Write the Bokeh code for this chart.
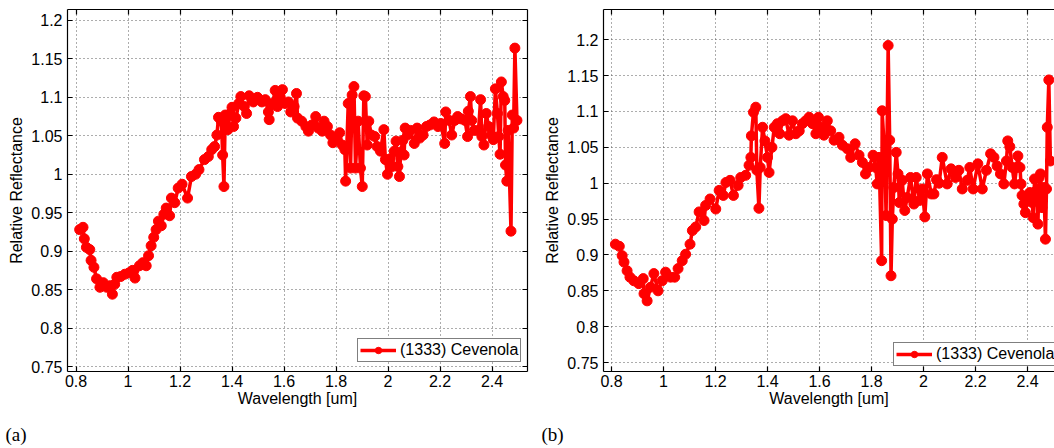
from bokeh.plotting import figure
from bokeh.layouts import row
from bokeh.models import FixedTicker, LinearAxis, Legend, LegendItem, Range1d, Title
from bokeh.embed import file_html
from bokeh.resources import INLINE

# ---------------- data ----------------
wl_a = [0.814, 0.827, 0.832, 0.840, 0.853, 0.858, 0.869, 0.879, 0.892, 0.905,
        0.918, 0.931, 0.940, 0.949, 0.957, 0.972, 0.988, 1.005, 1.018, 1.027,
        1.044, 1.057, 1.070, 1.079, 1.089, 1.099, 1.108, 1.117, 1.128, 1.138,
        1.147, 1.160, 1.167, 1.180, 1.193, 1.208, 1.229, 1.244, 1.260, 1.273,
        1.294, 1.309, 1.322, 1.333, 1.342, 1.348, 1.359, 1.364, 1.369, 1.374,
        1.384, 1.393, 1.400, 1.406, 1.415, 1.426, 1.434, 1.447, 1.456, 1.466,
        1.482, 1.498, 1.515, 1.528, 1.540, 1.543, 1.556, 1.566, 1.575, 1.584,
        1.594, 1.604, 1.617, 1.626, 1.639, 1.648, 1.652, 1.668, 1.684, 1.694,
        1.707, 1.722, 1.732, 1.747, 1.754, 1.767, 1.779, 1.788, 1.798, 1.814,
        1.824, 1.834, 1.837, 1.847, 1.856, 1.862, 1.869, 1.875, 1.885, 1.894,
        1.901, 1.907, 1.913, 1.920, 1.926, 1.936, 1.949, 1.958, 1.971, 1.984,
        1.990, 1.998, 2.008, 2.016, 2.024, 2.031, 2.038, 2.044, 2.049, 2.057,
        2.062, 2.066, 2.075, 2.086, 2.101, 2.112, 2.122, 2.135, 2.148, 2.161,
        2.177, 2.192, 2.203, 2.218, 2.222, 2.235, 2.245, 2.257, 2.268, 2.281,
        2.296, 2.306, 2.309, 2.317, 2.322, 2.332, 2.348, 2.356, 2.361, 2.369,
        2.378, 2.387, 2.397, 2.405, 2.413, 2.421, 2.426, 2.431, 2.436, 2.443,
        2.449, 2.452, 2.457, 2.462, 2.473, 2.478, 2.483, 2.488, 2.496]
refl_a = [0.928, 0.931, 0.916, 0.905, 0.902, 0.888, 0.879, 0.864, 0.853, 0.859,
          0.853, 0.855, 0.844, 0.857, 0.866, 0.867, 0.870, 0.872, 0.875, 0.865,
          0.881, 0.885, 0.881, 0.894, 0.907, 0.918, 0.928, 0.939, 0.933, 0.948,
          0.956, 0.946, 0.969, 0.963, 0.982, 0.987, 0.969, 0.997, 1.000, 1.006,
          1.019, 1.023, 1.032, 1.036, 1.051, 1.074, 1.069, 1.025, 0.984, 1.077,
          1.058, 1.079, 1.087, 1.062, 1.073, 1.092, 1.101, 1.088, 1.079, 1.102,
          1.094, 1.100, 1.094, 1.097, 1.081, 1.071, 1.092, 1.109, 1.088, 1.101,
          1.110, 1.092, 1.094, 1.081, 1.088, 1.105, 1.073, 1.069, 1.062, 1.056,
          1.064, 1.075, 1.060, 1.056, 1.069, 1.062, 1.051, 1.041, 1.045, 1.054,
          1.038, 1.032, 0.991, 1.092, 1.008, 1.103, 1.114, 1.008, 1.069, 1.008,
          0.984, 1.102, 1.101, 1.038, 1.069, 1.051, 1.049, 1.036, 1.030, 1.058,
          1.019, 1.000, 1.020, 1.010, 1.030, 1.043, 1.010, 0.997, 1.029, 1.044,
          1.025, 1.060, 1.051, 1.057, 1.040, 1.060, 1.047, 1.051, 1.062, 1.064,
          1.068, 1.062, 1.066, 1.040, 1.081, 1.070, 1.051, 1.070, 1.075, 1.072,
          1.070, 1.049, 1.082, 1.101, 1.070, 1.057, 1.057, 1.097, 1.049, 1.038,
          1.079, 1.062, 1.051, 1.045, 1.111, 1.079, 1.049, 1.026, 1.120, 1.101,
          1.096, 1.012, 0.991, 1.057, 0.926, 1.077, 1.060, 1.164, 1.070]

wl_b = [0.815, 0.830, 0.841, 0.848, 0.860, 0.871, 0.886, 0.905, 0.922, 0.925,
        0.937, 0.950, 0.963, 0.979, 0.995, 1.008, 1.027, 1.043, 1.056, 1.072,
        1.085, 1.102, 1.111, 1.124, 1.137, 1.156, 1.162, 1.179, 1.201, 1.214,
        1.230, 1.240, 1.256, 1.269, 1.287, 1.297, 1.316, 1.329, 1.336, 1.338,
        1.346, 1.355, 1.359, 1.367, 1.372, 1.381, 1.390, 1.400, 1.406, 1.417,
        1.426, 1.438, 1.447, 1.458, 1.470, 1.483, 1.496, 1.509, 1.522, 1.534,
        1.547, 1.560, 1.573, 1.586, 1.596, 1.605, 1.617, 1.630, 1.643, 1.656,
        1.675, 1.688, 1.707, 1.720, 1.737, 1.752, 1.765, 1.777, 1.790, 1.806,
        1.816, 1.822, 1.829, 1.839, 1.841, 1.851, 1.856, 1.864, 1.870, 1.875,
        1.880, 1.886, 1.895, 1.902, 1.907, 1.918, 1.928, 1.937, 1.950, 1.963,
        1.972, 1.985, 1.995, 2.005, 2.015, 2.030, 2.040, 2.050, 2.060, 2.072,
        2.091, 2.106, 2.123, 2.136, 2.149, 2.168, 2.178, 2.191, 2.209, 2.226,
        2.242, 2.258, 2.271, 2.283, 2.296, 2.309, 2.319, 2.324, 2.332, 2.341,
        2.350, 2.358, 2.363, 2.371, 2.375, 2.379, 2.386, 2.392, 2.401, 2.409,
        2.418, 2.422, 2.427, 2.435, 2.440, 2.445, 2.450, 2.456, 2.463, 2.469,
        2.473, 2.476, 2.482, 2.488]
refl_b = [0.915, 0.912, 0.899, 0.890, 0.878, 0.869, 0.864, 0.860, 0.867, 0.846,
          0.836, 0.855, 0.874, 0.850, 0.864, 0.876, 0.869, 0.869, 0.881, 0.892,
          0.901, 0.915, 0.934, 0.939, 0.960, 0.948, 0.969, 0.978, 0.964, 0.990,
          0.983, 1.001, 1.004, 0.983, 0.997, 1.008, 1.011, 1.025, 1.036, 1.066,
          1.099, 1.106, 1.018, 0.965, 1.022, 1.078, 1.059, 1.036, 1.015, 1.050,
          1.078, 1.083, 1.069, 1.087, 1.090, 1.067, 1.087, 1.069, 1.073, 1.083,
          1.087, 1.092, 1.083, 1.069, 1.092, 1.078, 1.067, 1.087, 1.073, 1.060,
          1.064, 1.053, 1.048, 1.036, 1.055, 1.039, 1.029, 1.013, 1.022, 1.039,
          1.022, 0.999, 1.036, 0.892, 1.101, 1.036, 0.955, 1.192, 1.060, 0.871,
          0.950, 0.994, 1.043, 1.013, 0.973, 1.004, 0.962, 0.980, 1.008, 0.971,
          1.008, 0.976, 0.992, 0.953, 1.013, 0.985, 0.985, 1.005, 1.000, 1.036,
          0.999, 1.020, 1.008, 1.018, 0.992, 1.004, 1.022, 0.992, 1.027, 0.992,
          1.018, 1.041, 1.036, 1.024, 1.013, 0.999, 1.031, 1.059, 1.051, 1.022,
          0.999, 1.022, 1.038, 1.022, 0.999, 0.983, 0.971, 0.959, 0.983, 0.987,
          0.973, 0.952, 1.006, 0.990, 0.943, 1.008, 1.013, 0.966, 0.994, 0.922,
          0.992, 1.078, 1.144, 1.031]

x_ticks = [0.8, 1.0, 1.2, 1.4, 1.6, 1.8, 2.0, 2.2, 2.4]
x_tick_labels = ["0.8", "1", "1.2", "1.4", "1.6", "1.8", "2", "2.2", "2.4"]
y_ticks = [0.75, 0.8, 0.85, 0.9, 0.95, 1.0, 1.05, 1.1, 1.15, 1.2]
y_tick_labels = ["0.75", "0.8", "0.85", "0.9", "0.95", "1", "1.05", "1.1", "1.15", "1.2"]
series_name = "(1333) Cevenola"
x_title = "Wavelength [um]"
y_title = "Relative Reflectance"
panel_tags = ["(a)", "(b)"]

RED = "#ff0000"
SANS = "Liberation Sans"
SERIF = "Liberation Serif"


def style_axis(ax, ticks, labels, show_labels=True):
    ax.ticker = FixedTicker(ticks=ticks)
    ax.major_label_overrides = dict(zip(ticks, labels))
    ax.axis_line_color = "black"
    ax.axis_line_width = 1.2
    ax.major_tick_line_color = "black"
    ax.major_tick_line_width = 1.2
    ax.major_tick_in = 5
    ax.major_tick_out = 0
    ax.minor_tick_in = 0
    ax.minor_tick_out = 0
    ax.major_label_text_font = SANS
    if show_labels:
        ax.major_label_text_font_size = "16px"
        ax.major_label_text_color = "black"
    else:
        ax.major_label_text_font_size = "0px"
        ax.major_label_text_color = None
        ax.major_label_standoff = 0
    ax.axis_label_text_font = SANS
    ax.axis_label_text_font_size = "16px"
    ax.axis_label_text_font_style = "normal"
    ax.axis_label_text_color = "black"


def make_panel(wl, refl, xr, yr, width, borders, right_axis, tag, legend_loc):
    bl, br, bt, bb = borders
    p = figure(width=width, height=448,
               x_range=Range1d(*xr), y_range=Range1d(*yr),
               output_backend="svg", toolbar_location=None,
               min_border_left=bl, min_border_right=br,
               min_border_top=bt, min_border_bottom=bb,
               x_axis_label=x_title, y_axis_label=y_title)
    p.outline_line_color = None
    p.background_fill_color = "white"
    p.border_fill_color = "white"

    style_axis(p.xaxis[0], x_ticks, x_tick_labels)
    style_axis(p.yaxis[0], y_ticks, y_tick_labels)
    p.xaxis[0].major_label_standoff = 3
    p.xaxis[0].axis_label_standoff = 0
    p.yaxis[0].major_label_standoff = 5
    p.yaxis[0].axis_label_standoff = 3

    for g in (p.xgrid[0], p.ygrid[0]):
        g.grid_line_color = "#5a5a5a"
        g.grid_line_dash = "1 3"
        g.grid_line_width = 1

    # invisible spacer (ticks drawn in no colour) between the x-axis title and the tag
    spacer = LinearAxis()
    style_axis(spacer, x_ticks, x_tick_labels, show_labels=False)
    spacer.axis_line_color = None
    spacer.major_tick_line_color = None
    spacer.major_tick_in = 0
    spacer.major_tick_out = 12
    p.add_layout(spacer, "below")

    # panel tag "(a)" / "(b)"
    p.add_layout(Title(text=tag, align="left", offset=-62, standoff=0,
                       text_font=SERIF, text_font_size="19px",
                       text_font_style="normal", text_color="black"), "below")

    top = LinearAxis()
    style_axis(top, x_ticks, x_tick_labels, show_labels=False)
    p.add_layout(top, "above")
    if right_axis:
        rax = LinearAxis()
        style_axis(rax, y_ticks, y_tick_labels, show_labels=False)
        p.add_layout(rax, "right")

    r_line = p.line(wl, refl, line_color=RED, line_width=3.5)
    r_pts = p.scatter(wl, refl, size=10, marker="circle",
                      fill_color=RED, line_color=RED)

    legend = Legend(items=[LegendItem(label=series_name, renderers=[r_line, r_pts])],
                    location=legend_loc)
    legend.border_line_color = "black"
    legend.border_line_width = 1.2
    legend.background_fill_color = "white"
    legend.background_fill_alpha = 1
    legend.label_text_font = SANS
    legend.label_text_font_size = "16px"
    legend.label_text_color = "black"
    legend.padding = 2
    legend.spacing = 0
    legend.margin = 0
    legend.glyph_width = 36
    legend.glyph_height = 16
    legend.label_height = 16
    legend.label_standoff = 4
    p.add_layout(legend)
    return p


# panel (a): canvas 0..530; frame 67..527 x 9..373
pa = make_panel(wl_a, refl_a, xr=(0.7673, 2.5365), yr=(0.7435, 1.2142),
                width=530, borders=(67, 3, 9, 75), right_axis=True,
                tag=panel_tags[0], legend_loc=(290, 9))
# panel (b): canvas 530..1054; frame 603..1054 (cut at the window edge) x 9..371
pb = make_panel(wl_b, refl_b, xr=(0.7692, 2.5038), yr=(0.7375, 1.2422),
                width=524, borders=(73, 0, 9, 77), right_axis=False,
                tag=panel_tags[1], legend_loc=(290, 5))

layout = row(pa, pb, spacing=0)
open("out.html", "w").write(file_html(layout, INLINE))
